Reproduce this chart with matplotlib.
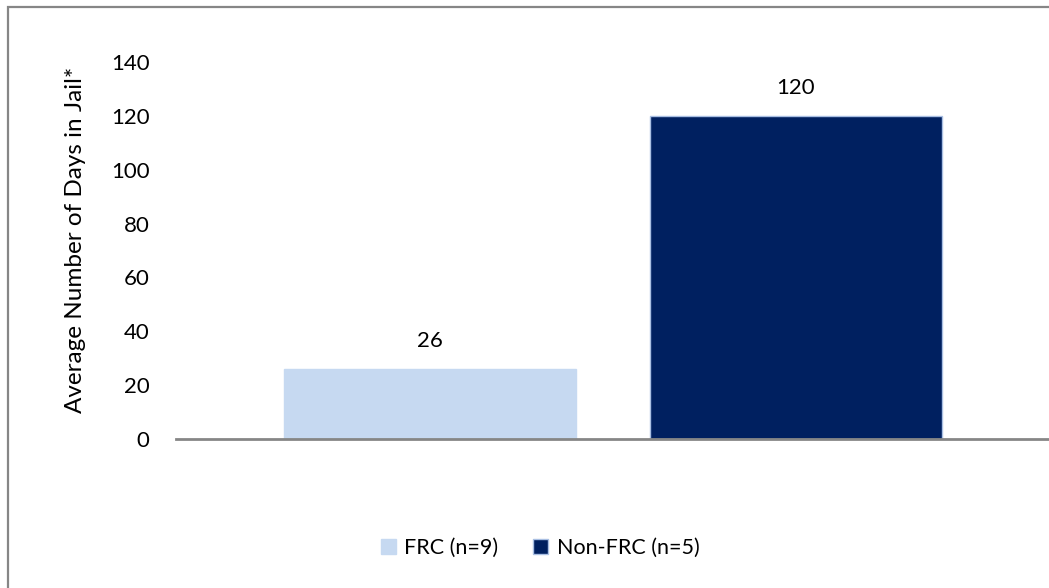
import matplotlib.pyplot as plt
from matplotlib.patches import Rectangle, Patch

plt.rcParams['font.family'] = ['Lato', 'DejaVu Sans']

groups = ["FRC (n=9)", "Non-FRC (n=5)"]
avg_days = [26, 120]
bar_colors = ["#c6d9f1", "#002060"]
edge_colors = ["#c6d9f1", "#a9bfe3"]
yticks = [0, 20, 40, 60, 80, 100, 120, 140]

W, H = 1049, 588
fig = plt.figure(figsize=(W / 100, H / 100), dpi=100)

# chart frame (only top/left edges fall inside the canvas)
fig.add_artist(Rectangle((8 / W, -0.1), 1.2, (H - 7) / H + 0.1,
                         transform=fig.transFigure, fill=False,
                         edgecolor="#868686", linewidth=1.6))

ax = fig.add_axes([176 / W, (H - 439) / H, 1 - 176 / W + 0.01, (439 - 62) / H])
x = [0, 1]
for xi, v, c, ec in zip(x, avg_days, bar_colors, edge_colors):
    ax.bar(xi, v, width=0.8, color=c, edgecolor=ec, linewidth=1.0)
    ax.text(xi, v + 6.5, str(v), ha="center", va="bottom", fontsize=16)

ax.set_xlim(-0.694, 1.72)
ax.set_ylim(0, 140)
ax.set_yticks(yticks)
ax.set_yticklabels([str(t) for t in yticks], fontsize=16)
ax.set_xticks([])
ax.tick_params(axis="y", length=0, pad=19)
for s in ["top", "right", "left"]:
    ax.spines[s].set_visible(False)
ax.spines["bottom"].set_color("#868686")
ax.spines["bottom"].set_linewidth(2)
ax.set_ylabel("Average Number of Days in Jail*", fontsize=17.5)
ax.yaxis.set_label_coords(-(176 - 87) / (W - 176), 0.527)

handles = [Patch(facecolor=c, edgecolor=ec) for c, ec in zip(bar_colors, edge_colors)]
fig.legend(handles, groups, loc="center", bbox_to_anchor=(540 / W, (H - 548) / H),
           ncol=2, frameon=False, fontsize=15.5, handlelength=0.7, handleheight=0.7,
           handletextpad=0.4, columnspacing=1.6)

fig.savefig("out.png", dpi=100)
